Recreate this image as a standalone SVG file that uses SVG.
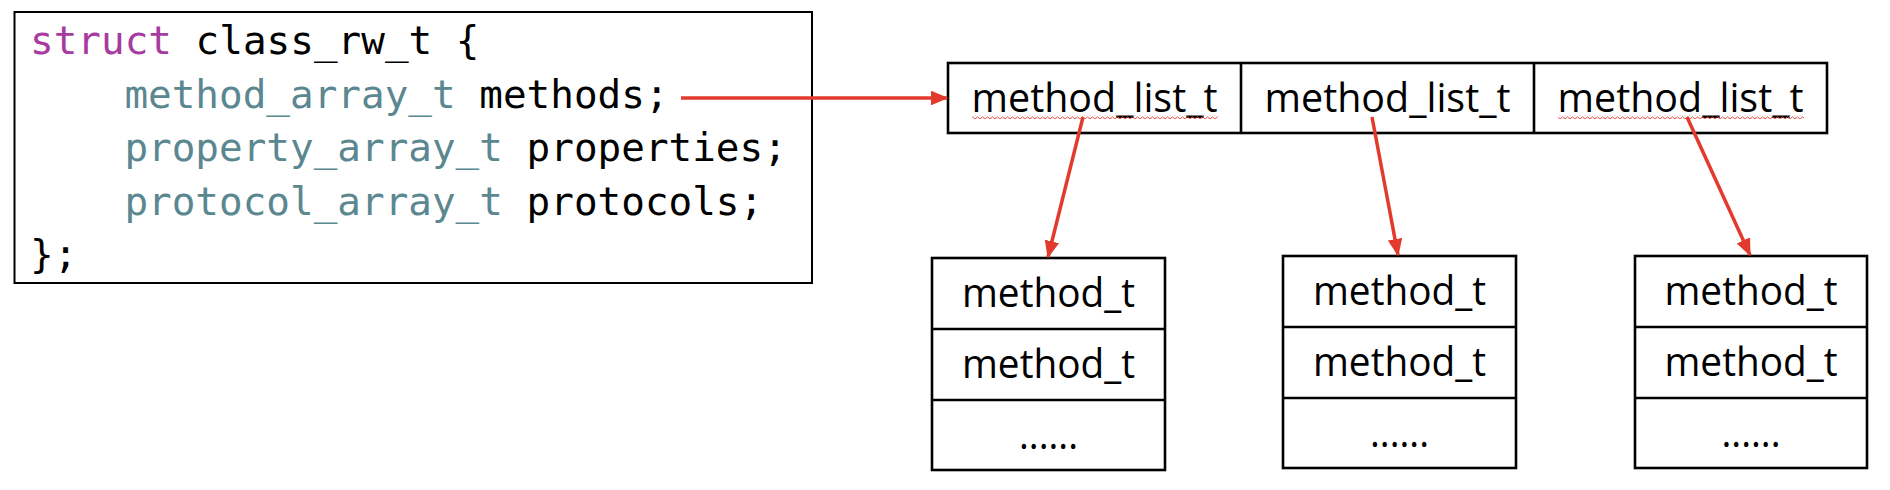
<svg xmlns="http://www.w3.org/2000/svg" width="1890" height="490" viewBox="0 0 1890 490">
<style>
.box{fill:#fff;stroke:#000;stroke-width:2.6}
.div{stroke:#000;stroke-width:2.6}
.code{font-family:"DejaVu Sans Mono","Liberation Mono",monospace;font-size:39.3px;fill:#000}
.kw{fill:#a63ba0}
.ty{fill:#5b8790}
.lbl{font-family:"Open Sans","Noto Sans","Liberation Sans",sans-serif;font-size:41px;fill:#000;text-anchor:middle}
.arr{stroke:#e23b2e;stroke-width:3.5;fill:none;marker-end:url(#ah)}
</style>
<defs>
<marker id="ah" viewBox="0 0 5 4.2" refX="4.6" refY="2.1" markerWidth="5" markerHeight="4.2" orient="auto" markerUnits="strokeWidth">
<path d="M0,0 L5,2.1 L0,4.2 Z" fill="#e23b2e"/>
</marker>
<pattern id="sq" width="5" height="4" patternUnits="userSpaceOnUse">
<path d="M0,3.2 L2.5,0.8 L5,3.2" stroke="#e0453a" stroke-width="1" fill="none"/>
</pattern>
</defs>
<rect width="1890" height="490" fill="#fff"/>

<g id="code">
<rect class="box" x="14.5" y="12" width="797.5" height="271" style="stroke-width:2"/>
<text class="code" x="30" y="54"><tspan class="kw">struct</tspan> class_rw_t {</text>
<text class="code" x="124.4" y="107.5"><tspan class="ty">method_array_t</tspan> methods;</text>
<text class="code" x="124.4" y="161"><tspan class="ty">property_array_t</tspan> properties;</text>
<text class="code" x="124.4" y="214.5"><tspan class="ty">protocol_array_t</tspan> protocols;</text>
<text class="code" x="30" y="268">};</text>
</g>

<g id="method_array">
<rect class="box" x="948" y="63" width="879" height="70"/>
<line class="div" x1="1241" y1="63" x2="1241" y2="133"/>
<line class="div" x1="1534" y1="63" x2="1534" y2="133"/>
<text class="lbl" x="1094.5" y="112" textLength="246" lengthAdjust="spacingAndGlyphs">method_list_t</text>
<text class="lbl" x="1387.5" y="112" textLength="246" lengthAdjust="spacingAndGlyphs">method_list_t</text>
<text class="lbl" x="1680.5" y="112" textLength="246" lengthAdjust="spacingAndGlyphs">method_list_t</text>
<rect x="972" y="115" width="246" height="4" fill="url(#sq)"/>
<rect x="1558" y="115" width="246" height="4" fill="url(#sq)"/>
</g>

<g id="list1">
<rect class="box" x="932" y="258" width="233" height="212"/>
<line class="div" x1="932" y1="329" x2="1165" y2="329"/>
<line class="div" x1="932" y1="400" x2="1165" y2="400"/>
<text class="lbl" x="1048.5" y="307" textLength="173" lengthAdjust="spacingAndGlyphs">method_t</text>
<text class="lbl" x="1048.5" y="378" textLength="173" lengthAdjust="spacingAndGlyphs">method_t</text>
<text class="lbl" x="1048.5" y="449" textLength="59" lengthAdjust="spacingAndGlyphs">......</text>
</g>

<g id="list2">
<rect class="box" x="1283" y="256" width="233" height="212"/>
<line class="div" x1="1283" y1="327" x2="1516" y2="327"/>
<line class="div" x1="1283" y1="398" x2="1516" y2="398"/>
<text class="lbl" x="1399.5" y="305" textLength="173" lengthAdjust="spacingAndGlyphs">method_t</text>
<text class="lbl" x="1399.5" y="376" textLength="173" lengthAdjust="spacingAndGlyphs">method_t</text>
<text class="lbl" x="1399.5" y="447" textLength="59" lengthAdjust="spacingAndGlyphs">......</text>
</g>

<g id="list3">
<rect class="box" x="1635" y="256" width="232" height="212"/>
<line class="div" x1="1635" y1="327" x2="1867" y2="327"/>
<line class="div" x1="1635" y1="398" x2="1867" y2="398"/>
<text class="lbl" x="1751" y="305" textLength="173" lengthAdjust="spacingAndGlyphs">method_t</text>
<text class="lbl" x="1751" y="376" textLength="173" lengthAdjust="spacingAndGlyphs">method_t</text>
<text class="lbl" x="1751" y="447" textLength="59" lengthAdjust="spacingAndGlyphs">......</text>
</g>

<g id="connectors">
<line class="arr" x1="681" y1="98" x2="947" y2="98"/>
<line class="arr" x1="1083" y1="117" x2="1048" y2="257"/>
<line class="arr" x1="1372" y1="117" x2="1398" y2="255"/>
<line class="arr" x1="1687" y1="117" x2="1750" y2="255"/>
</g>
</svg>
